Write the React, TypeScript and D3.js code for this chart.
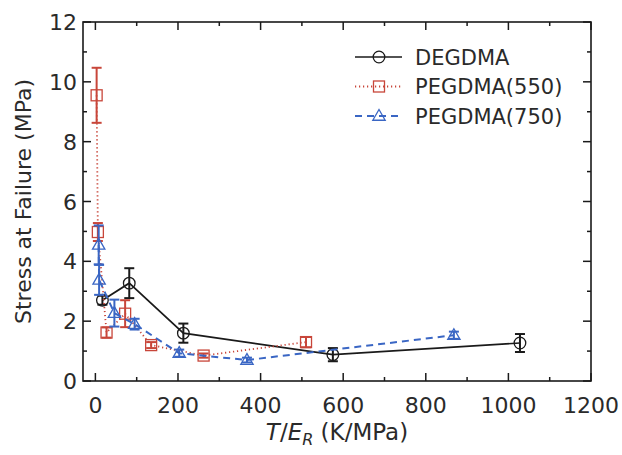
import React from "react";
import * as d3 from "d3";

const degX = [17, 82, 213, 575, 1028];
const degY = [2.7, 3.27, 1.6, 0.88, 1.27];
const degErr = [0.15, 0.5, 0.32, 0.22, 0.3];

const p550X = [3, 6, 27, 72, 135, 262, 510];
const p550Y = [9.55, 4.98, 1.62, 2.25, 1.2, 0.85, 1.3];
const p550Err = [0.92, 0.3, 0.17, 0.45, 0.1, 0.07, 0.17];

const p750X = [8, 9, 46, 95, 203, 367, 868];
const p750Y = [4.55, 3.38, 2.27, 1.9, 0.93, 0.7, 1.53];
const p750Err = [0.65, 0.5, 0.45, 0.18, 0.12, 0.08, 0.12];

const xTicks = [0, 200, 400, 600, 800, 1000, 1200];
const xMinor = [100, 300, 500, 700, 900, 1100];
const yTicks = [0, 2, 4, 6, 8, 10, 12];
const yMinor = [1, 3, 5, 7, 9, 11];

const seriesNames = ["DEGDMA", "PEGDMA(550)", "PEGDMA(750)"];

const W = 622, H = 455;
const L = 83, R = 591, T = 22, B = 381;
const FONT = "'DejaVu Sans', sans-serif";
const BLACK = "#1a1a1a", RED = "#c8463a", BLUE = "#3a66c4";
const TXT = "#2a2a2a";

export default function App() {
  const x = d3.scaleLinear().domain([-30, 1200]).range([L, R]);
  const y = d3.scaleLinear().domain([0, 12]).range([B, T]);

  const series = [
    { name: seriesNames[0], xs: degX, ys: degY, es: degErr, color: BLACK, dash: "none", width: 1.7, marker: "circle" },
    { name: seriesNames[1], xs: p550X, ys: p550Y, es: p550Err, color: RED, dash: "1.2,2.8", width: 1.8, marker: "square" },
    { name: seriesNames[2], xs: p750X, ys: p750Y, es: p750Err, color: BLUE, dash: "7,5", width: 2, marker: "triangle" },
  ];

  const line = d3.line<[number, number]>().x(d => x(d[0])).y(d => y(d[1]));

  const marker = (type: string, cx: number, cy: number, color: string, key: string) => {
    if (type === "circle") return <circle key={key} cx={cx} cy={cy} r={5.8} fill="none" stroke={color} strokeWidth={1.3} />;
    if (type === "square") return <rect key={key} x={cx - 5.5} y={cy - 5.5} width={11} height={11} fill="none" stroke={color} strokeWidth={1.3} />;
    const s = 6.5;
    return <path key={key} d={`M${cx},${cy - s}L${cx + s * 0.95},${cy + s * 0.65}L${cx - s * 0.95},${cy + s * 0.65}Z`} fill="none" stroke={color} strokeWidth={1.3} />;
  };

  return (
    <svg width={W} height={H} style={{ position: "absolute", left: 0, top: 0, background: "#fff" }} fontFamily={FONT}>
      <rect x={0} y={0} width={W} height={H} fill="#fff" />
      {xTicks.map(t => (
        <g key={"xt" + t}>
          <line x1={x(t)} x2={x(t)} y1={B} y2={B - 8} stroke={BLACK} strokeWidth={1.5} />
          <line x1={x(t)} x2={x(t)} y1={T} y2={T + 8} stroke={BLACK} strokeWidth={1.5} />
          <text x={x(t)} y={413} textAnchor="middle" fontSize={22} fill={TXT}>{t}</text>
        </g>
      ))}
      {xMinor.map(t => (
        <g key={"xm" + t}>
          <line x1={x(t)} x2={x(t)} y1={B} y2={B - 4} stroke={BLACK} strokeWidth={1.5} />
          <line x1={x(t)} x2={x(t)} y1={T} y2={T + 4} stroke={BLACK} strokeWidth={1.5} />
        </g>
      ))}
      {yTicks.map(t => (
        <g key={"yt" + t}>
          <line x1={L} x2={L + 8} y1={y(t)} y2={y(t)} stroke={BLACK} strokeWidth={1.5} />
          <line x1={R} x2={R - 8} y1={y(t)} y2={y(t)} stroke={BLACK} strokeWidth={1.5} />
          <text x={L - 6} y={y(t) + 8} textAnchor="end" fontSize={22} fill={TXT}>{t}</text>
        </g>
      ))}
      {yMinor.map(t => (
        <g key={"ym" + t}>
          <line x1={L} x2={L + 4} y1={y(t)} y2={y(t)} stroke={BLACK} strokeWidth={1.5} />
          <line x1={R} x2={R - 4} y1={y(t)} y2={y(t)} stroke={BLACK} strokeWidth={1.5} />
        </g>
      ))}
      <rect x={L} y={T} width={R - L} height={B - T} fill="none" stroke={BLACK} strokeWidth={1.6} />

      {series.map(s => {
        const pts = s.xs.map((v, i) => [v, s.ys[i]] as [number, number]);
        return (
          <g key={s.name}>
            <path d={line(pts) || ""} fill="none" stroke={s.color} strokeWidth={s.width} strokeDasharray={s.dash} />
            {pts.map((p, i) => {
              const cx = x(p[0]);
              const y1 = y(p[1] + s.es[i]), y2 = y(p[1] - s.es[i]);
              return (
                <g key={i}>
                  <line x1={cx} x2={cx} y1={y1} y2={y2} stroke={s.color} strokeWidth={2} />
                  <line x1={cx - 5} x2={cx + 5} y1={y1} y2={y1} stroke={s.color} strokeWidth={2} />
                  <line x1={cx - 5} x2={cx + 5} y1={y2} y2={y2} stroke={s.color} strokeWidth={2} />
                </g>
              );
            })}
            {pts.map((p, i) => marker(s.marker, x(p[0]), y(p[1]), s.color, "m" + i))}
          </g>
        );
      })}

      {series.map((s, i) => {
        const ly = 57 + i * 29.5;
        return (
          <g key={"lg" + i}>
            <line x1={355} x2={402} y1={ly} y2={ly} stroke={s.color} strokeWidth={s.width} strokeDasharray={s.dash} />
            {marker(s.marker, 379, ly, s.color, "lm" + i)}
            <text x={415} y={ly + 7.5} fontSize={21} fill={TXT}>{s.name}</text>
          </g>
        );
      })}

      <text transform={`translate(31, ${(T + B) / 2}) rotate(-90)`} textAnchor="middle" fontSize={22} fill={TXT}>Stress at Failure (MPa)</text>
      <text x={337} y={440} textAnchor="middle" fontSize={23} fill={TXT}>
        <tspan fontStyle="italic">T</tspan>
        <tspan>/</tspan>
        <tspan fontStyle="italic">E</tspan>
        <tspan fontStyle="italic" fontSize={16} dy={5}>R</tspan>
        <tspan dy={-5}> (K/MPa)</tspan>
      </text>
    </svg>
  );
}
